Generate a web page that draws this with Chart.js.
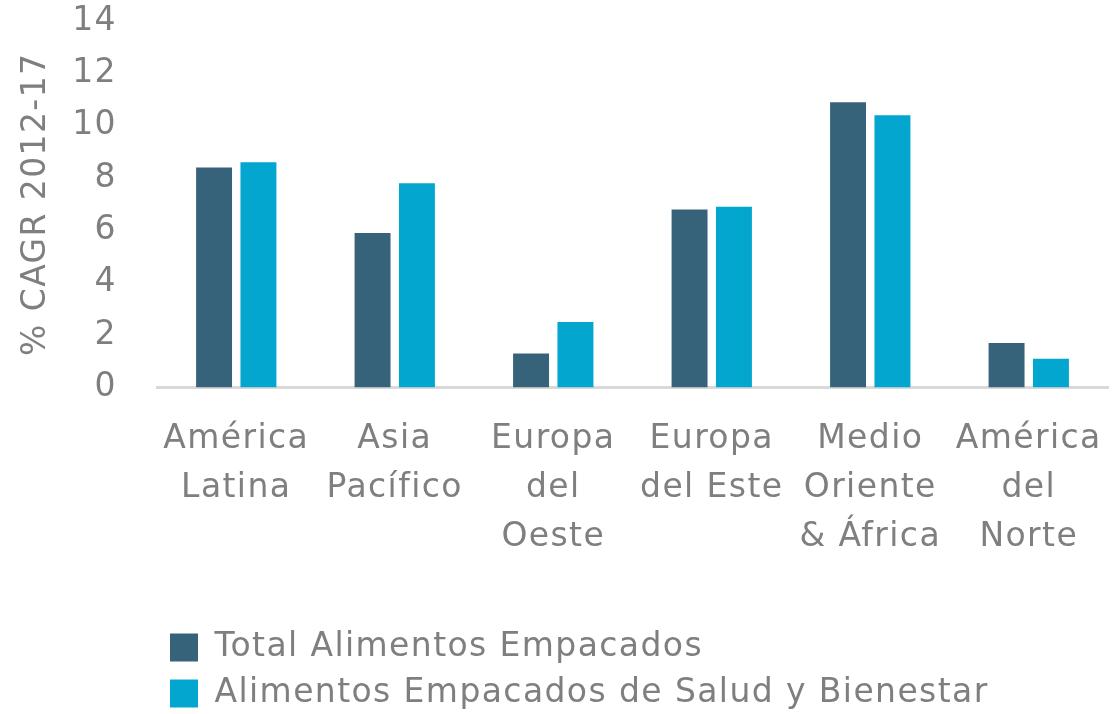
<!DOCTYPE html>
<html>
<head>
<meta charset="utf-8">
<script src="https://cdn.jsdelivr.net/npm/chart.js@4/dist/chart.umd.min.js"></script>
<style>
  html, body { margin: 0; padding: 0; background: #fff; overflow: hidden; }
  #wrap { width: 1115px; height: 714px; overflow: hidden; }
</style>
</head>
<body>
<div id="wrap"><canvas id="cagrChart" width="1115" height="720"></canvas></div>
<script>
const regions = [
    ['América', 'Latina'],
    ['Asia', 'Pacífico'],
    ['Europa', 'del', 'Oeste'],
    ['Europa', 'del Este'],
    ['Medio', 'Oriente', '& África'],
    ['América', 'del', 'Norte']
];
const totalPackaged = [8.4, 5.9, 1.3, 6.8, 10.9, 1.7];
const healthWellness = [8.6, 7.8, 2.5, 6.9, 10.4, 1.1];
const yTicks = [0, 2, 4, 6, 8, 10, 12, 14];

const textGrey = '#7f7f7f';
const font = { family: '"DejaVu Sans", sans-serif', size: 33 };

// the source font runs a bit wider than DejaVu, so widen the letters a little
const spacing = {
    id: 'spacing',
    beforeDraw: chart => { chart.ctx.letterSpacing = '1.4px'; }
};

new Chart(document.getElementById('cagrChart'), {
    type: 'bar',
    data: {
        labels: regions,
        datasets: [{
            label: 'Total Alimentos Empacados',
            data: totalPackaged,
            backgroundColor: '#36637a',
            categoryPercentage: 0.56,
            barPercentage: 0.81
        }, {
            label: 'Alimentos Empacados de Salud y Bienestar',
            data: healthWellness,
            backgroundColor: '#02a6cf',
            categoryPercentage: 0.56,
            barPercentage: 0.81
        }]
    },
    plugins: [spacing],
    options: {
        responsive: false,
        animation: false,
        layout: { padding: { top: 21, right: 7, left: 0, bottom: 0 } },
        plugins: {
            tooltip: { enabled: false },
            legend: {
                position: 'bottom',
                align: 'start',
                fullSize: false,
                labels: {
                    boxWidth: 28,
                    boxHeight: 28,
                    padding: 13,
                    color: textGrey,
                    font: font
                }
            }
        },
        scales: {
            x: {
                grid: { display: false, drawTicks: false },
                border: { display: true, color: '#d9d9d9', width: 3 },
                ticks: {
                    color: textGrey,
                    font: { ...font, lineHeight: 1.48 },
                    padding: 28,
                    maxRotation: 0,
                    autoSkip: false
                },
                afterFit: s => {
                    s.height = 230.5;
                    s.paddingLeft = 0;
                    s.paddingRight = 0;
                }
            },
            y: {
                min: 0,
                max: 14,
                afterBuildTicks: s => { s.ticks = yTicks.map(v => ({ value: v })); },
                grid: { display: false, drawTicks: false },
                border: { display: false },
                ticks: {
                    color: textGrey,
                    font: font,
                    padding: 40
                },
                title: {
                    display: true,
                    text: '% CAGR 2012-17',
                    color: textGrey,
                    font: font,
                    padding: { top: 17, bottom: 0 }
                },
                afterFit: s => {
                    s.width = 157;
                    s.paddingTop = 0;
                    s.paddingBottom = 0;
                }
            }
        }
    }
});
</script>
</body>
</html>
